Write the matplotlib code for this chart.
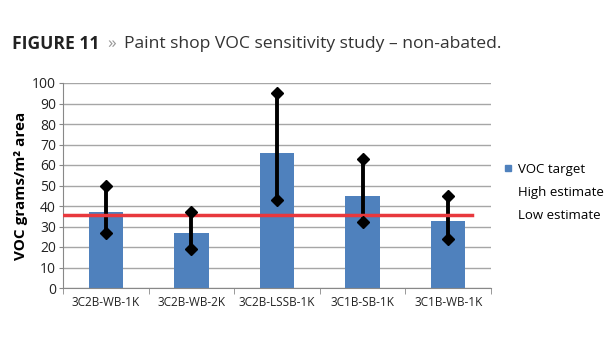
import matplotlib.pyplot as plt
import numpy as np

# Data
categories = ["3C2B-WB-1K", "3C2B-WB-2K", "3C2B-LSSB-1K", "3C1B-SB-1K", "3C1B-WB-1K"]
voc_target = [37, 27, 66, 45, 32.5]
high_estimate = [50, 37, 95, 63, 45]
low_estimate = [27, 19, 43, 32, 24]
limit_value = 35.5

plt.rcParams['font.family'] = ['Open Sans', 'DejaVu Sans']

fig = plt.figure(figsize=(6.15, 3.5), dpi=100)
ax = fig.add_axes([63 / 615, 1 - 288 / 350, (491 - 63) / 615, (288 - 83) / 350])

x = np.arange(len(categories))

# Bars
ax.bar(x, voc_target, width=0.4, color='#4f81bd', zorder=2, label='VOC target')

# High/low range lines with diamond ends
for xi, lo, hi in zip(x, low_estimate, high_estimate):
    ax.plot([xi, xi], [lo, hi], color='black', linewidth=2.8, zorder=3)
ax.plot(x, high_estimate, linestyle='none', marker='D', markersize=5.8,
        color='black', zorder=4, label='High estimate')
ax.plot(x, low_estimate, linestyle='none', marker='D', markersize=5.8,
        color='black', zorder=4, label='Low estimate')

# Red limit line
ax.plot([-0.5, 4.28], [limit_value, limit_value], color='#e8383d', linewidth=2.5, zorder=3)

ax.set_xlim(-0.5, 4.5)
ax.set_ylim(0, 100)
ax.set_yticks(np.arange(0, 101, 10))
ax.yaxis.grid(True, color='#a6a6a6', linewidth=1)
ax.set_axisbelow(True)

ax.set_xticks(x)
ax.set_xticklabels(categories, fontsize=8.5, color='#222222')
ax.set_xticks(np.arange(-0.5, 4.6, 1), minor=True)
ax.tick_params(axis='x', which='major', length=0, pad=6)
ax.tick_params(axis='x', which='minor', length=4, color='#888888')
ax.tick_params(axis='y', length=3, color='#888888', labelsize=10, labelcolor='#222222', pad=2)

for side in ['top', 'right']:
    ax.spines[side].set_visible(False)
ax.spines['left'].set_color('#888888')
ax.spines['bottom'].set_color('#888888')

ax.set_ylabel('VOC grams/m² area', fontsize=11, fontweight='bold', labelpad=3)

# Legend: only the bar shows a marker
handles = [
    plt.Line2D([], [], marker='s', linestyle='none', color='#4f81bd', markersize=5),
    plt.Line2D([], [], linestyle='none'),
    plt.Line2D([], [], linestyle='none'),
]
ax.legend(handles, ['VOC target', 'High estimate', 'Low estimate'],
          loc='center left', bbox_to_anchor=(1.01, 0.465), frameon=False,
          fontsize=9.5, handlelength=0.5, handletextpad=0.5, labelspacing=0.78,
          borderpad=0.2)

# Title
fig.text(12 / 615, 1 - 44 / 350, 'FIGURE 11', fontsize=12.6, fontweight='bold',
         color='#222222', va='center')
fig.text(107 / 615, 1 - 44 / 350, '»', fontsize=12.6, color='#999999', va='center')
fig.text(124 / 615, 1 - 44 / 350, 'Paint shop VOC sensitivity study – non-abated.',
         fontsize=12.6, color='#333333', va='center')

fig.savefig('out.png', dpi=100, facecolor='white')
